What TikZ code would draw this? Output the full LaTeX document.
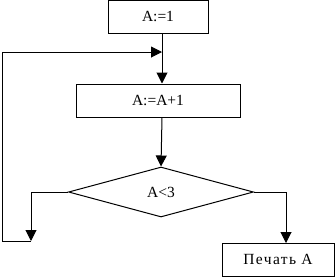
\documentclass[tikz,border=0pt]{standalone}
\usepackage{fontspec}
\setmainfont{Liberation Serif}
\usetikzlibrary{arrows.meta,shapes.geometric,calc}
\begin{document}
\begin{tikzpicture}[x=1pt,y=-1pt,line width=1pt,
  every node/.style={font=\fontsize{15.5}{18}\selectfont},
  box/.style={draw,rectangle,inner sep=0pt},
  dec/.style={draw,diamond,inner sep=0pt,minimum width=185pt,minimum height=50pt,aspect=3.7},
  arr/.style={-{Triangle[length=11pt,width=11pt]}}]
\useasboundingbox (0,0) rectangle (335,277);
\node[box,minimum width=100pt,minimum height=32.5pt] (b1) at (158,16.75) {A:=1};
\node[box,minimum width=164pt,minimum height=33pt] (b2) at (158,100.5) {A:=A+1};
\node[dec] (d) at (161,192) {A<3};
\node[box,minimum width=112pt,minimum height=33.5pt] (b3) at (278,259.75) {\addfontfeatures{LetterSpace=9}Печать A};
\coordinate (j) at (162,52);
\coordinate (tl) at (2,52);
\coordinate (bl) at (2,241);
\coordinate (ll) at (31,241);
\coordinate (rr) at (286,243);
\draw[arr] (b1.south -| j) -- (b2.north -| j);
\draw[arr] (b2.south -| j) -- (d.north);
\draw[arr] (ll) -- (bl) -- (tl) -- (j);
\draw[arr] (d.west) -| (ll);
\draw[arr] (d.east) -| (rr);
\end{tikzpicture}
\end{document}
